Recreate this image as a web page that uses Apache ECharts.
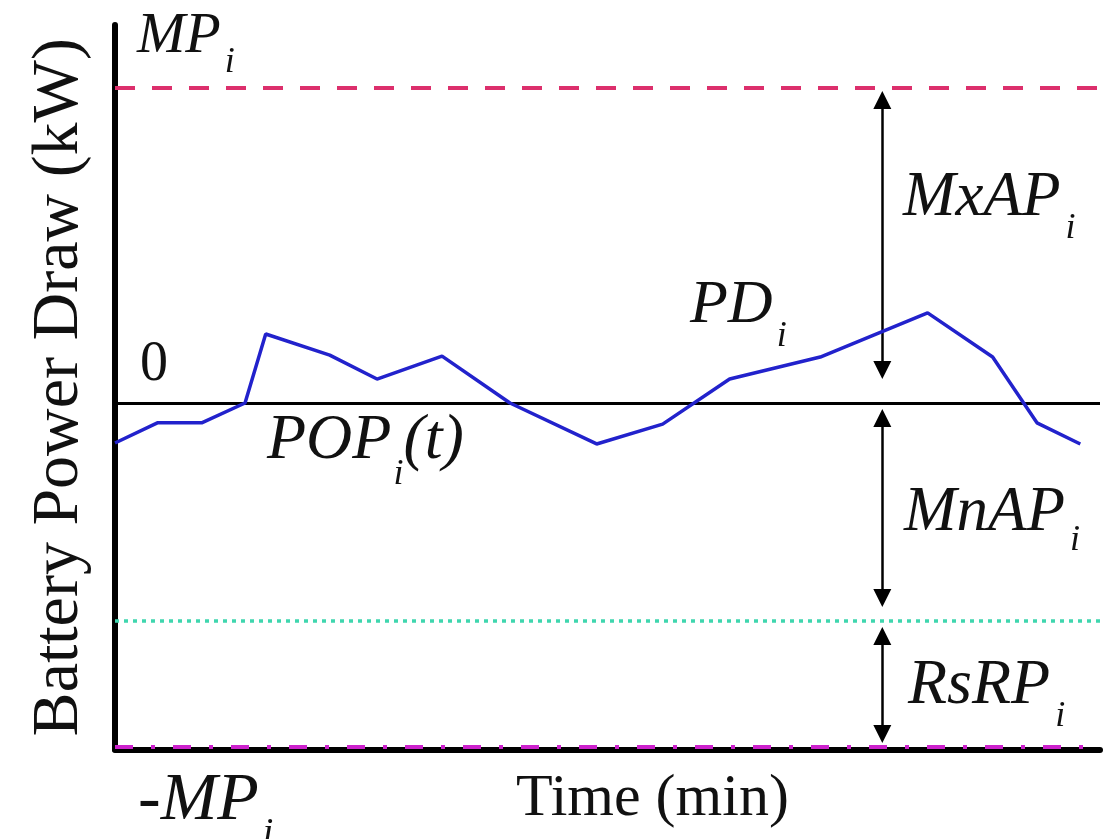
<!DOCTYPE html>
<html><head><meta charset="utf-8">
<script src="https://cdn.jsdelivr.net/npm/echarts@6/dist/echarts.min.js"></script>
<style>html,body{margin:0;padding:0;background:#fff}#c{width:1110px;height:839px}</style>
</head><body><div id="c"></div>
<script>
// ---- data ----
const timeMin   = [0, 4.3, 8.8, 13.2, 15.3, 21.8, 26.6, 33.2, 40.1, 48.9, 55.6, 62.4, 71.6, 82.5, 89.1, 93.6, 98.0];
const powerDraw = [-1.27, -0.63, -0.63, 0, 2.19, 1.52, 0.76, 1.49, 0, -1.30, -0.67, 0.76, 1.46, 2.86, 1.46, -0.63, -1.30];
const levelNames  = ['MP', 'zero', 'reserve', 'negMP'];
const levelValues = [10, 0, -6.9, -10.9];
const arrowX = 77.9;
const arrowSpans = [[9.62, 1.05], [-0.48, -6.19], [-7.40, -10.51]];
const axisNames = ['Time (min)', 'Battery Power Draw (kW)'];
const labelTexts = ['MP', 'MxAP', 'MnAP', 'RsRP', 'PD', 'POP', '-MP', '0'];
const subText = 'i';

const serif = '"Liberation Serif", "Times New Roman", serif';
const cv = document.createElement('canvas').getContext('2d');
function measure(t, size, italic) { cv.font = (italic ? 'italic ' : '') + size + 'px ' + serif; return cv.measureText(t).width; }

// build label graphic elements: parts = [text, size, dy, gapBefore, italic]
function buildLabel(x, y, parts) {
  const out = []; let cx = x;
  parts.forEach(p => {
    const [t, size, dy, gap, italic] = p;
    cx += gap;
    out.push({ type: 'text', x: cx, y: y + dy, silent: true, z: 10,
      style: { text: t, fontFamily: serif, fontSize: size, fontStyle: italic ? 'italic' : 'normal',
               fill: '#111', textAlign: 'left', textVerticalAlign: 'middle' } });
    cx += measure(t, size, italic);
  });
  return out;
}

const sub = 36;
let graphics = [];
graphics = graphics.concat(buildLabel(137, 37, [[labelTexts[0], 58, 0, 0, 1], [subText, sub, 26, 4, 1]]));
graphics = graphics.concat(buildLabel(903, 198, [[labelTexts[1], 63, 0, 0, 1], [subText, sub, 31, 5, 1]]));
graphics = graphics.concat(buildLabel(904, 513, [[labelTexts[2], 63, 0, 0, 1], [subText, sub, 28, 5, 1]]));
graphics = graphics.concat(buildLabel(908, 686, [[labelTexts[3], 64, 0, 0, 1], [subText, sub, 31, 5, 1]]));
graphics = graphics.concat(buildLabel(690, 306, [[labelTexts[4], 62, 0, 0, 1], [subText, sub, 31, 4, 1]]));
graphics = graphics.concat(buildLabel(267, 441, [[labelTexts[5], 64, 0, 0, 1], [subText, sub, 34, 2, 1], ['(t)', 64, 0, 0, 1]]));
graphics = graphics.concat(buildLabel(138, 801, [[labelTexts[6], 68, 0, 0, 1], [subText, sub + 2, 33, 4, 1]]));
graphics = graphics.concat(buildLabel(140, 365, [[labelTexts[7], 56, 0, 0, 0]]));

const levelStyles = [
  { color: '#dc2f6c', width: 4, type: [20, 17] },
  { color: '#000000', width: 3, type: 'solid' },
  { color: '#3fd6ae', width: 3.5, type: [4, 5] },
  { color: '#cc22cc', width: 4, type: [18, 18, 4, 18] }
];

const chart = echarts.init(document.getElementById('c'), null, { renderer: 'canvas' });
chart.setOption({
  animation: false,
  backgroundColor: '#ffffff',
  grid: { left: 115, right: 10, top: 25, bottom: 89.5, containLabel: false, outerBoundsMode: 'none' },
  xAxis: {
    type: 'value', min: 0, max: 100,
    axisLine: { show: true, onZero: false, lineStyle: { color: '#000', width: 6 } },
    axisTick: { show: false }, axisLabel: { show: false }, splitLine: { show: false },
    name: axisNames[0], nameLocation: 'middle', nameGap: 20,
    nameTextStyle: { fontFamily: serif, fontSize: 60, color: '#111', padding: [0, 0, 0, 90] }
  },
  yAxis: {
    type: 'value', min: -11, max: 12,
    axisLine: { show: true, onZero: false, lineStyle: { color: '#000', width: 6 } },
    axisTick: { show: false }, axisLabel: { show: false }, splitLine: { show: false },
    name: axisNames[1], nameLocation: 'middle', nameRotate: 90, nameGap: 22,
    nameTextStyle: { fontFamily: serif, fontSize: 66, color: '#111' }
  },
  series: [
    {
      name: 'levels', type: 'line', data: [], z: 1, silent: true,
      markLine: {
        silent: true, symbol: ['none', 'none'], label: { show: false }, animation: false,
        data: levelValues.map((v, i) => ({ name: levelNames[i], yAxis: v, lineStyle: levelStyles[i] }))
      }
    },
    {
      name: 'arrows', type: 'line', data: [], z: 2, silent: true,
      markLine: {
        silent: true, symbol: ['triangle', 'triangle'], symbolSize: 18, label: { show: false }, animation: false,
        lineStyle: { color: '#000', width: 2.5, type: 'solid' },
        itemStyle: { color: '#000' },
        data: arrowSpans.map(s => [{ coord: [arrowX, s[0]] }, { coord: [arrowX, s[1]] }])
      }
    },
    {
      name: 'PD', type: 'line', z: 5, showSymbol: false, symbol: 'none',
      data: timeMin.map((t, i) => [t, powerDraw[i]]),
      lineStyle: { color: '#2222cc', width: 3.5 }
    }
  ],
  graphic: graphics
});
</script></body></html>
